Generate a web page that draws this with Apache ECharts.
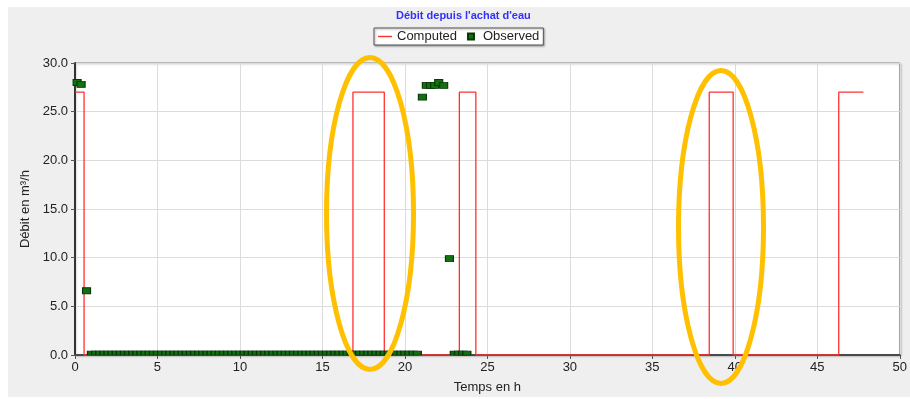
<!DOCTYPE html>
<html>
<head>
<meta charset="utf-8">
<script src="https://cdn.jsdelivr.net/npm/echarts@6/dist/echarts.min.js"></script>
<style>
  html, body { margin: 0; padding: 0; background: #ffffff; overflow: hidden; }
  #panel { position: absolute; left: 8px; top: 7px; width: 902px; height: 390px; background: #efefef; }
  #chart { position: absolute; left: 0; top: 0; width: 910px; height: 399px; }
</style>
</head>
<body>
<div id="panel"></div>
<div id="chart"></div>
<script>
// Flow computed by the model: change points of a step curve (hours, m³/h)
const computedTimes  = [0, 0.55, 16.85, 18.75, 23.3, 24.3, 38.45, 39.9, 46.3, 47.8];
const computedValues = [27, 0, 27, 0, 27, 0, 27, 0, 27, 27];

// Observed flow readings (hours, m³/h)
const observedTimes = [
  0.13, 0.37, 0.7,
  1.0, 1.25, 1.5, 1.75, 2.0, 2.25, 2.5, 2.75, 3.0, 3.25, 3.5, 3.75,
  4.0, 4.25, 4.5, 4.75, 5.0, 5.25, 5.5, 5.75, 6.0, 6.25, 6.5, 6.75,
  7.0, 7.25, 7.5, 7.75, 8.0, 8.25, 8.5, 8.75, 9.0, 9.25, 9.5, 9.75,
  10.0, 10.25, 10.5, 10.75, 11.0, 11.25, 11.5, 11.75, 12.0, 12.25, 12.5, 12.75,
  13.0, 13.25, 13.5, 13.75, 14.0, 14.25, 14.5, 14.75, 15.0, 15.25, 15.5, 15.75,
  16.0, 16.25, 16.5, 16.75, 17.0, 17.25, 17.5, 17.75, 18.0, 18.25, 18.5, 18.75,
  19.0, 19.25, 19.5, 19.75, 20.0, 20.25, 20.5, 20.75,
  21.06, 21.3, 21.55, 21.8, 22.05, 22.35, 22.7,
  23.0, 23.25, 23.5, 23.75
];
const observedValues = [
  28.0, 27.8, 6.6,
  0, 0, 0, 0, 0, 0, 0, 0, 0, 0, 0, 0,
  0, 0, 0, 0, 0, 0, 0, 0, 0, 0, 0, 0,
  0, 0, 0, 0, 0, 0, 0, 0, 0, 0, 0, 0,
  0, 0, 0, 0, 0, 0, 0, 0, 0, 0, 0, 0,
  0, 0, 0, 0, 0, 0, 0, 0, 0, 0, 0, 0,
  0, 0, 0, 0, 0, 0, 0, 0, 0, 0, 0, 0,
  0, 0, 0, 0, 0, 0, 0, 0,
  26.5, 27.7, 27.7, 27.7, 28.0, 27.7, 9.9,
  0, 0, 0, 0
];

const xTicks = { min: 0, max: 50, step: 5 };
const yTicks = { min: 0, max: 30, step: 5 };

const FONT = '"Liberation Sans", Arial, sans-serif';

const chart = echarts.init(document.getElementById('chart'), null, { renderer: 'canvas' });

const computedData = computedTimes.map((t, i) => [t, computedValues[i]]);
// readings at zero sit on the axis, so only their upper half shows
const observedData = observedTimes.map((t, i) => {
  const v = observedValues[i];
  return v === 0
    ? { value: [t, v], symbolSize: [8, 4], symbolOffset: [0, -2] }
    : { value: [t, v], symbolSize: [8, 6] };
});

chart.setOption({
  animation: false,
  title: {
    text: "Débit depuis l'achat d'eau",
    left: 396, top: 10, padding: 0,
    textStyle: { fontFamily: FONT, fontSize: 11, fontWeight: 'bold', color: '#3030ff' }
  },
  legend: {
    left: 374, top: 28,
    padding: [2, 4, 2, 4],
    itemWidth: 14, itemHeight: 6, itemGap: 10,
    backgroundColor: '#ffffff',
    borderColor: '#555555', borderWidth: 1,
    shadowColor: 'rgba(0,0,0,0.35)', shadowBlur: 2, shadowOffsetX: 1, shadowOffsetY: 1,
    textStyle: { fontFamily: FONT, fontSize: 13, color: '#222222', padding: [1, 0, 0, 0] },
    data: [
      { name: 'Computed', icon: 'path://M0,0h14v1.4h-14z' },
      { name: 'Observed', icon: 'path://M0,0h6v6h-6z' }
    ]
  },
  grid: {
    left: 75, right: 7, top: 63, bottom: 38,
    show: true, backgroundColor: '#ffffff',
    borderColor: '#8c8c8c', borderWidth: 1,
    shadowColor: 'rgba(0,0,0,0.25)', shadowBlur: 2, shadowOffsetX: 1, shadowOffsetY: 1
  },
  xAxis: {
    type: 'value', min: xTicks.min, max: xTicks.max, interval: xTicks.step,
    name: 'Temps en h', nameLocation: 'middle', nameGap: 26,
    nameTextStyle: { fontFamily: FONT, fontSize: 13, color: '#222222' },
    axisLine: { show: true, onZero: false, lineStyle: { color: '#4a4a4a', width: 2 } },
    axisTick: { show: true, length: 4, lineStyle: { color: '#555555' } },
    axisLabel: { fontFamily: FONT, fontSize: 13, color: '#222222', margin: 6 },
    splitLine: { show: true, lineStyle: { color: '#dcdcdc', width: 1 } }
  },
  yAxis: {
    type: 'value', min: yTicks.min, max: yTicks.max, interval: yTicks.step,
    name: 'Débit en m³/h', nameLocation: 'middle', nameGap: 41,
    nameTextStyle: { fontFamily: FONT, fontSize: 13, color: '#222222' },
    axisLine: { show: true, lineStyle: { color: '#333333', width: 2 } },
    axisTick: { show: true, length: 4, lineStyle: { color: '#555555' } },
    axisLabel: { fontFamily: FONT, fontSize: 13, color: '#222222', margin: 7,
                 formatter: v => v.toFixed(1) },
    splitLine: { show: true, lineStyle: { color: '#dcdcdc', width: 1 } }
  },
  series: [
    {
      name: 'Computed', type: 'line', step: 'end',
      data: computedData, symbol: 'none', z: 3,
      lineStyle: { color: '#ff3030', width: 1.3 },
      itemStyle: { color: '#ff3030' }
    },
    {
      name: 'Observed', type: 'scatter', symbol: 'rect',
      data: observedData, z: 4,
      itemStyle: { color: '#126f12', borderColor: '#083808', borderWidth: 1, opacity: 1 }
    }
  ],
  graphic: [
    {
      type: 'ellipse', z: 100,
      shape: { cx: 370, cy: 213.5, rx: 43.5, ry: 156 },
      style: { fill: 'none', stroke: '#ffc000', lineWidth: 5 }
    },
    {
      type: 'ellipse', z: 100,
      shape: { cx: 721, cy: 227, rx: 42.5, ry: 156.5 },
      style: { fill: 'none', stroke: '#ffc000', lineWidth: 5 }
    }
  ]
});
</script>
</body>
</html>
